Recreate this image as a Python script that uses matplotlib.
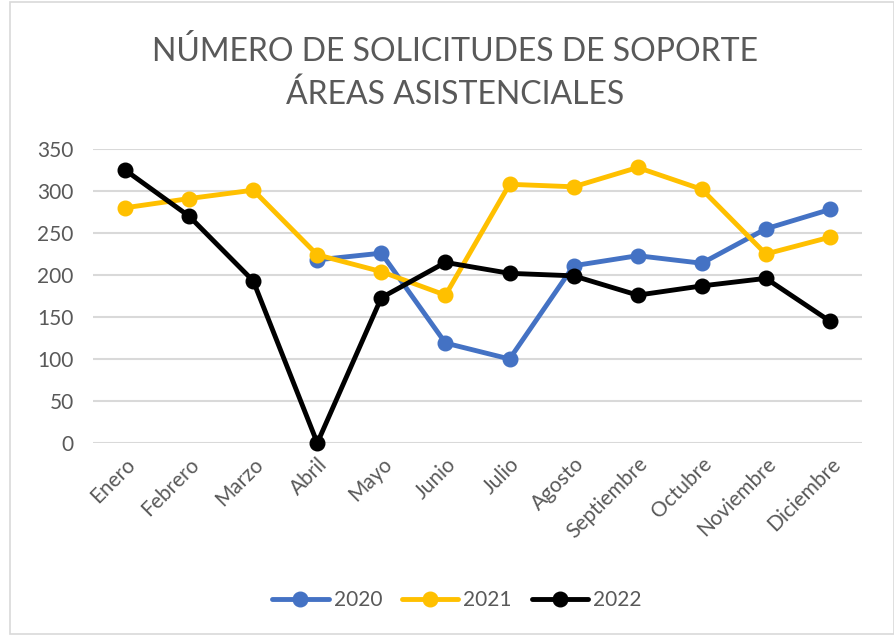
import matplotlib
matplotlib.use("Agg")
import matplotlib.pyplot as plt
from matplotlib.patches import Rectangle
import numpy as np

meses = ["Enero", "Febrero", "Marzo", "Abril", "Mayo", "Junio", "Julio",
         "Agosto", "Septiembre", "Octubre", "Noviembre", "Diciembre"]
s2020 = [None, None, None, 218, 226, 119, 100, 211, 223, 214, 255, 278]
s2021 = [280, 291, 301, 224, 204, 176, 308, 305, 328, 302, 225, 245]
s2022 = [325, 270, 193, 0, 173, 215, 202, 199, 176, 187, 196, 145]

plt.rcParams['font.family'] = ['Lato', 'DejaVu Sans']
gris = '#595959'

fig = plt.figure(figsize=(8.95, 6.36), dpi=100)
fig.patches.append(Rectangle((10 / 895, 2 / 636), 884 / 895, 632 / 636,
                             transform=fig.transFigure, fill=False,
                             edgecolor='#d9d9d9', linewidth=1.2))
ax = fig.add_axes([93 / 895, 1 - 443 / 636, 769 / 895, 294 / 636])

x = np.arange(len(meses))
series = [("2020", s2020, '#4472c4'), ("2021", s2021, '#ffc000'), ("2022", s2022, '#000000')]
for nombre, vals, color in series:
    y = np.array([np.nan if v is None else v for v in vals], dtype=float)
    ax.plot(x, y, color=color, linewidth=3.5, marker='o', markersize=10.5,
            label=nombre, solid_capstyle='round', zorder=3, clip_on=False)

ax.set_xlim(-0.5, len(meses) - 0.5)
ax.set_ylim(0, 350)
ax.set_yticks(range(0, 351, 50))
ax.set_xticks(x)
ax.set_xticklabels(meses, rotation=45, ha='right', rotation_mode='anchor')
ax.tick_params(axis='both', length=0, colors=gris)
ax.tick_params(axis='y', pad=14, labelsize=15)
ax.tick_params(axis='x', pad=8, labelsize=15)
ax.grid(axis='y', color='#d9d9d9', linewidth=1.5)
ax.set_axisbelow(True)
for lado in ax.spines.values():
    lado.set_visible(False)

fig.text(455 / 895, 1 - 73 / 636, "NÚMERO DE SOLICITUDES DE SOPORTE\nÁREAS ASISTENCIALES",
         ha='center', va='center', fontsize=23, color=gris, linespacing=1.55)

fig.legend(loc='center', bbox_to_anchor=(457 / 895, 1 - 600 / 636), ncol=3,
           frameon=False, fontsize=15, handlelength=2.7, handletextpad=0.25,
           columnspacing=0.95, labelcolor=gris)

fig.savefig("out.png", dpi=100)
